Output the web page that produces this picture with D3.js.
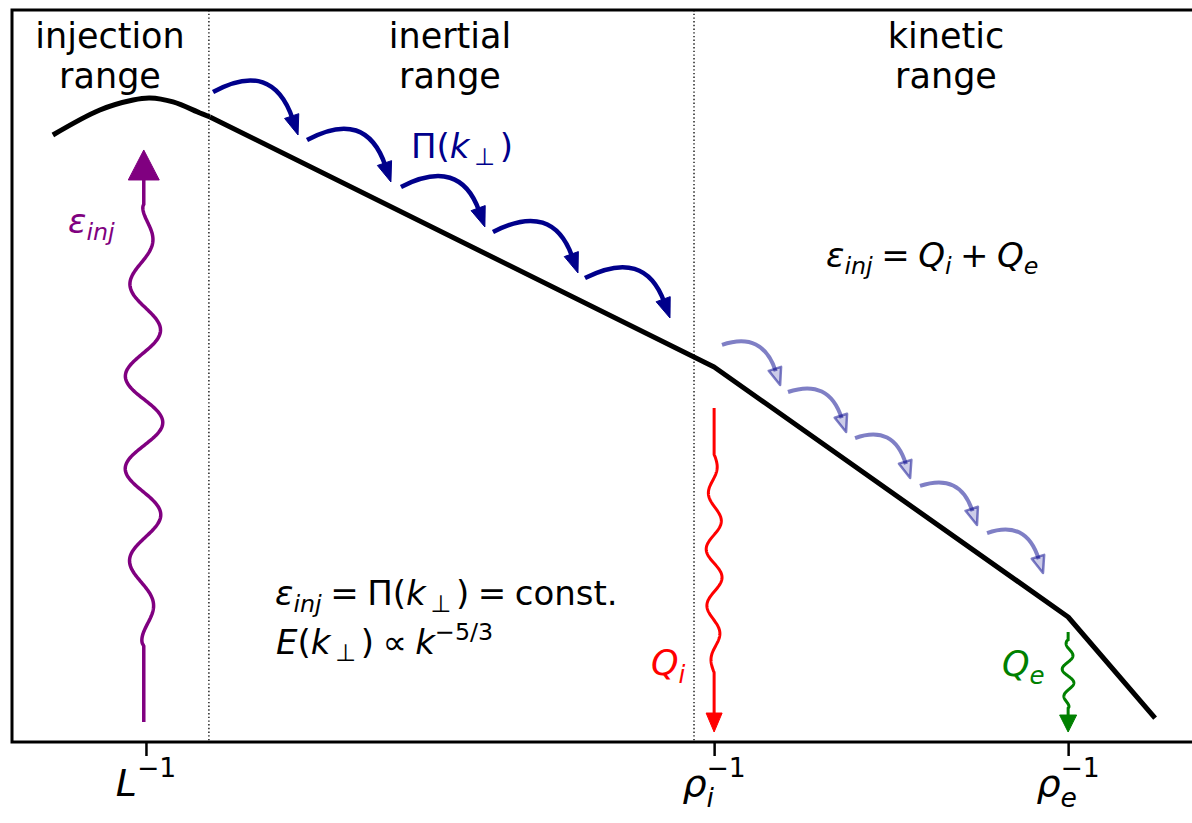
<!DOCTYPE html>
<html>
<head>
<meta charset="utf-8">
<script src="https://cdn.jsdelivr.net/npm/d3@7"></script>
<style>
  body { margin: 0; background: #fff; }
  svg { display: block; font-family: "DejaVu Sans", sans-serif; }
</style>
</head>
<body>
<div id="chart"></div>
<script>
// spectrum, x = log10 k, y = log10 E
const peakK = [-0.426, -0.211, -0.059, 0.018, 0.124, 0.247, 0.293];
const peakE = [0.367, 0.753, 0.907, 0.938, 0.877, 0.707, 0.645];
const lawK = [0.293, 2.6, 4.22, 4.618];
const lawE = [0.645, -3.213, -7.071, -8.63];

// x ticks
const tickK = [0, 2.6, 4.22];
const tickLabels = [
  [["L", "i"], ["−1", "^r"]],
  [["ρ", "i"], ["i", "_i"], ["−1", "&r"]],
  [["ρ", "i"], ["e", "_i"], ["−1", "&r"]]
];
const rangeBounds = [0.288, 2.508];

// cascade arrows: [k start, E start, k end, E end]
const inertialArrows = [
  [0.307, 1.031, 0.696, 0.367],
  [0.737, 0.290, 1.121, -0.358],
  [1.167, -0.435, 1.551, -1.052],
  [1.588, -1.130, 1.977, -1.762],
  [2.009, -1.840, 2.398, -2.457]
];
const kineticArrows = [
  [2.636, -2.873, 2.902, -3.491],
  [2.938, -3.599, 3.204, -4.216],
  [3.245, -4.309, 3.497, -4.926],
  [3.542, -5.049, 3.803, -5.651],
  [3.849, -5.775, 4.105, -6.392]
];

// injection / heating arrows: k, E tail, E tip
const injArrow = [-0.01, -8.691, 0.136];
const ionArrow = [2.6, -3.846, -8.846];
const elecArrow = [4.22, -7.302, -8.846];

const W = 1192, H = 823;
const pLeft = 12, pRight = 1194, pTop = 10, pBottom = 742;

const x = d3.scaleLinear().domain([-0.613, 4.796]).range([pLeft, pRight]);
const y = d3.scaleLinear().domain([-9, 2.296]).range([pBottom, pTop]);

const svg = d3.select("#chart").append("svg")
  .attr("width", W).attr("height", H);

// range boundaries
svg.selectAll("line.bound").data(rangeBounds).join("line")
  .attr("class", "bound")
  .attr("x1", d => x(d)).attr("x2", d => x(d))
  .attr("y1", pTop).attr("y2", pBottom)
  .attr("stroke", "#222").attr("stroke-width", 1.5)
  .attr("stroke-dasharray", "1.4,2.3");

// spectrum
svg.append("path")
  .datum(d3.zip(peakK, peakE))
  .attr("fill", "none").attr("stroke", "#000").attr("stroke-width", 5)
  .attr("d", d3.line().x(d => x(d[0])).y(d => y(d[1])).curve(d3.curveCatmullRom.alpha(0.5)));
svg.append("path")
  .datum(d3.zip(lawK, lawE))
  .attr("fill", "none").attr("stroke", "#000").attr("stroke-width", 5)
  .attr("stroke-linejoin", "round")
  .attr("d", d3.line().x(d => x(d[0])).y(d => y(d[1])));

// curved cascade arrow
function curvedArrow(g, a, o) {
  const S = [x(a[0]), y(a[1])], T = [x(a[2]), y(a[3])];
  const dx = T[0] - S[0], dy = T[1] - S[1];
  const Q = [S[0] + o.qx * dx, S[1] - o.qy * dy];
  let ux = T[0] - Q[0], uy = T[1] - Q[1];
  const len = Math.hypot(ux, uy); ux /= len; uy /= len;
  const B = [T[0] - ux * o.head * 0.85, T[1] - uy * o.head * 0.85];
  const Hb = [T[0] - ux * o.head, T[1] - uy * o.head];
  g.append("path")
    .attr("d", `M${S[0]},${S[1]}Q${Q[0]},${Q[1]} ${B[0]},${B[1]}`)
    .attr("fill", "none").attr("stroke", o.color).attr("stroke-width", o.width)
    .attr("stroke-opacity", o.alpha);
  const px = -uy * o.hw / 2, py = ux * o.hw / 2;
  g.append("path")
    .attr("d", `M${T[0]},${T[1]}L${Hb[0] + px},${Hb[1] + py}L${Hb[0] - px},${Hb[1] - py}Z`)
    .attr("fill", o.color).attr("fill-opacity", o.fillAlpha)
    .attr("stroke", o.color).attr("stroke-opacity", o.alpha)
    .attr("stroke-width", o.headStroke).attr("stroke-linejoin", "round");
}

const gInertial = svg.append("g");
inertialArrows.forEach(a => curvedArrow(gInertial, a,
  { qx: 0.7, qy: 0.76, head: 20, hw: 15, width: 4.5, color: "#00008b", alpha: 1, fillAlpha: 1, headStroke: 1 }));
const gKinetic = svg.append("g");
kineticArrows.forEach(a => curvedArrow(gKinetic, a,
  { qx: 0.7, qy: 0.35, head: 17, hw: 13, width: 4, color: "#00008b", alpha: 0.5, fillAlpha: 0.2, headStroke: 2.5 }));

// wavy vertical arrow
function wavyArrow(a, o) {
  const X = x(a[0]), Y0 = y(a[1]), Y1 = y(a[2]);
  const dir = Math.sign(Y1 - Y0);
  const Yb = Y1 - dir * o.head;
  const pts = [];
  const n = 400;
  for (let i = 0; i <= n; i++) {
    const yy = Y0 + (Yb - Y0) * i / n;
    const d = (yy - o.w0) * dir;
    const span = (o.w1 - o.w0) * dir;
    let off = 0;
    if (d > 0 && d < span) {
      const u = d / span;
      off = o.amp * Math.sin(2 * Math.PI * d / o.lambda + o.phase) * Math.pow(Math.sin(Math.PI * u), 0.5);
    }
    pts.push([X + off, yy]);
  }
  svg.append("path").attr("d", d3.line()(pts))
    .attr("fill", "none").attr("stroke", o.color).attr("stroke-width", o.width);
  svg.append("path")
    .attr("d", `M${X},${Y1}L${X - o.hw / 2},${Yb}L${X + o.hw / 2},${Yb}Z`)
    .attr("fill", o.color).attr("stroke", o.color).attr("stroke-width", 1).attr("stroke-linejoin", "round");
}

wavyArrow(injArrow, { head: 30, hw: 31, w0: 645, w1: 205, amp: 19, lambda: 93, phase: -0.9, color: "#800080", width: 3.5 });
wavyArrow(ionArrow, { head: 19, hw: 16, w0: 455, w1: 672, amp: 8, lambda: 57, phase: 0.63, color: "#ff0000", width: 3 });
wavyArrow(elecArrow, { head: 17, hw: 17, w0: 640, w1: 708, amp: 6, lambda: 28, phase: -1.8, color: "#008000", width: 3 });

// frame
svg.append("rect")
  .attr("x", pLeft).attr("y", pTop).attr("width", pRight - pLeft).attr("height", pBottom - pTop)
  .attr("fill", "none").attr("stroke", "#000").attr("stroke-width", 3);

// ticks
const xAxis = d3.axisBottom(x).tickValues(tickK).tickFormat("").tickSize(14);
const axisG = svg.append("g").attr("transform", `translate(0,${pBottom})`).call(xAxis);
axisG.select(".domain").remove();
axisG.selectAll(".tick line").attr("stroke", "#000").attr("stroke-width", 2.5);

// mathtext-like label
function mathText(g, px, py, parts, o) {
  const fs = o.size;
  const t = g.append("text").attr("x", px).attr("y", py)
    .attr("font-size", fs).attr("fill", o.color || "#000");
  let cur = 0, lastSubW = 0;
  parts.forEach(([str, kind]) => {
    const sub = kind[0] === "_", sup = kind[0] === "^", stack = kind[0] === "&";
    const small = sub || sup || stack;
    const target = sub ? (o.sub || 0.22) * fs : (sup || stack) ? -(o.sup || 0.42) * fs : 0;
    const ts = t.append("tspan").text(str)
      .attr("font-style", kind.endsWith("i") ? "italic" : "normal")
      .attr("font-size", small ? fs * 0.7 : fs)
      .attr("dy", target - cur);
    if (stack) ts.attr("dx", -lastSubW);
    cur = target;
    if (sub) lastSubW = ts.node().getComputedTextLength();
  });
  if (o.anchor === "middle") {
    const b = t.node().getBBox();
    t.attr("x", px - b.width / 2);
  }
  return t;
}

const FS = 35, MS = 34;
const sp = "\u2005", th = "\u2009";

tickK.forEach((k, i) => mathText(svg, x(k), 796, tickLabels[i], { size: 38, anchor: "middle", sub: 0.3, sup: 0.5 }));

// range titles
const titles = [["injection", "range", 110], ["inertial", "range", 450], ["kinetic", "range", 946]];
titles.forEach(([a, b, cx]) => {
  const t = svg.append("text").attr("text-anchor", "middle").attr("font-size", FS).attr("fill", "#000");
  t.append("tspan").attr("x", cx).attr("y", 48).text(a);
  t.append("tspan").attr("x", cx).attr("y", 88).text(b);
});

mathText(svg, 68, 233, [["ε", "i"], ["inj", "_i"]], { size: MS, color: "#800080" });
mathText(svg, 411, 158, [["Π(", "r"], ["k", "i"], [th + "⊥" + th, "_r"], [")", "r"]], { size: MS, color: "#00008b" });
mathText(svg, 826, 267, [["ε", "i"], ["inj", "_i"], [sp + "=" + sp, "r"], ["Q", "i"], ["i", "_i"], [sp + "+" + sp, "r"], ["Q", "i"], ["e", "_i"]], { size: MS });
mathText(svg, 275, 605, [["ε", "i"], ["inj", "_i"], [sp + "=" + sp + "Π(", "r"], ["k", "i"], [th + "⊥" + th, "_r"], [")" + sp + "=" + sp + "const.", "r"]], { size: MS });
mathText(svg, 276, 654, [["E", "i"], ["(", "r"], ["k", "i"], [th + "⊥" + th, "_r"], [")" + sp + "∝" + sp, "r"], ["k", "i"], ["−5/3", "^r"]], { size: MS });
mathText(svg, 651, 675, [["Q", "i"], ["i", "_i"]], { size: MS + 1, color: "#ff0000" });
mathText(svg, 1002, 676, [["Q", "i"], ["e", "_i"]], { size: MS + 1, color: "#008000" });
</script>
</body>
</html>
